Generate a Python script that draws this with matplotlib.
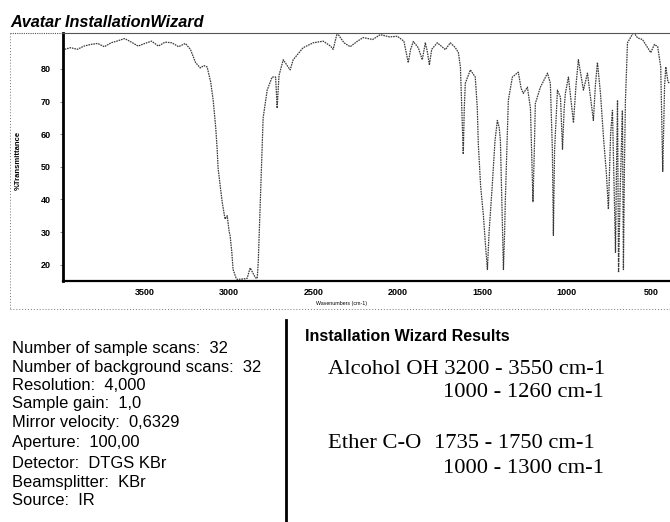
import matplotlib
matplotlib.use('Agg')
import matplotlib.pyplot as plt
from matplotlib.lines import Line2D

# IR spectrum (wavenumber cm-1, %T)
wavenumbers = [3975, 3940, 3900, 3860, 3820, 3780, 3740, 3700, 3660, 3620,
               3580, 3540, 3500, 3460, 3420, 3380, 3340, 3300, 3260, 3230,
               3200, 3172, 3150, 3131, 3110, 3095, 3080, 3071, 3066, 3055,
               3042, 3025, 3012, 3000, 2995, 2985, 2977, 2960, 2953, 2920,
               2894, 2876, 2860, 2845, 2834, 2828, 2816, 2805, 2799, 2775,
               2746, 2725, 2716, 2705, 2680, 2639, 2621, 2562, 2502, 2443,
               2400, 2384, 2360, 2320, 2283, 2240, 2206, 2150, 2105, 2050,
               2004, 1965, 1939, 1925, 1909, 1880, 1856, 1838, 1825, 1814,
               1800, 1767, 1719, 1690, 1660, 1642, 1630, 1618, 1613, 1607,
               1601, 1571, 1542, 1530, 1524, 1510, 1494, 1480, 1470, 1460,
               1441, 1425, 1411, 1400, 1393, 1385, 1375, 1368, 1364, 1346,
               1322, 1287, 1270, 1257, 1233, 1215, 1206, 1200, 1192, 1186,
               1156, 1114, 1097, 1085, 1079, 1072, 1055, 1037, 1025, 1015,
               1008, 990, 960, 945, 931, 901, 877, 842, 830, 818,
               800, 782, 765, 753, 740, 729, 720, 711, 705, 699,
               693, 682, 670, 664, 658, 652, 640, 604, 580, 551,
               520, 502, 480, 461, 443, 431, 420, 413, 400, 390]
transmittance = [86.0, 86.5, 86.0, 87.0, 87.5, 87.8, 86.8, 88.0, 88.6, 89.3,
                 88.2, 87.0, 87.8, 88.5, 87.0, 88.2, 88.0, 86.8, 87.8, 86.0,
                 82.0, 80.3, 81.0, 80.6, 76.0, 70.4, 62.0, 55.0, 49.6, 45.0,
                 39.3, 34.0, 35.0, 30.0, 29.0, 24.0, 18.5, 16.0, 15.5, 15.6,
                 15.8, 19.0, 17.5, 16.0, 15.8, 20.7, 39.0, 55.0, 65.0, 73.5,
                 77.5, 77.5, 68.0, 78.0, 82.8, 79.7, 82.8, 86.5, 88.0, 88.5,
                 87.0, 86.0, 91.0, 88.0, 86.8, 88.5, 89.6, 89.0, 90.5, 89.8,
                 90.0, 88.5, 81.9, 86.0, 88.4, 86.5, 82.8, 88.0, 85.0, 81.2,
                 86.0, 88.0, 85.9, 88.0, 86.5, 85.0, 80.6, 62.0, 53.9, 68.0,
                 75.6, 79.7, 77.5, 68.0, 57.0, 44.0, 35.2, 25.0, 18.5, 30.0,
                 44.5, 58.0, 64.2, 62.0, 58.0, 40.0, 18.5, 30.0, 39.3, 70.4,
                 77.5, 79.0, 74.0, 72.5, 74.4, 68.0, 50.0, 39.3, 55.0, 69.4,
                 74.4, 78.7, 75.6, 55.0, 29.0, 55.0, 73.5, 71.3, 55.4, 68.0,
                 72.5, 77.5, 63.5, 75.0, 82.8, 73.5, 78.7, 64.2, 75.0, 82.0,
                 72.5, 58.9, 48.0, 37.0, 60.0, 67.3, 45.0, 23.8, 50.0, 70.4,
                 17.6, 45.0, 67.3, 18.5, 50.0, 70.4, 88.0, 91.2, 89.5, 89.0,
                 86.5, 85.0, 87.5, 86.8, 80.6, 48.6, 75.0, 80.6, 76.0, 75.6]

x_ticks = [3500, 3000, 2500, 2000, 1500, 1000, 500]
y_ticks = [20, 30, 40, 50, 60, 70, 80]

settings = ["Number of sample scans:  32",
            "Number of background scans:  32",
            "Resolution:  4,000",
            "Sample gain:  1,0",
            "Mirror velocity:  0,6329",
            "Aperture:  100,00",
            "Detector:  DTGS KBr",
            "Beamsplitter:  KBr",
            "Source:  IR"]
settings_y = [353, 372, 390, 408, 427, 447, 468, 487, 505]  # baseline px

W, H = 670, 522
fig = plt.figure(figsize=(W / 100, H / 100), dpi=100)
fig.patch.set_facecolor('white')


def fx(px):
    return px / W


def fy(py):
    return 1 - py / H


ax = fig.add_axes([fx(63), fy(281), fx(670) - fx(63), fy(33) - fy(281)])
ax.plot(wavenumbers, transmittance, color='#3a3a3a', lw=0.9,
        linestyle=(0, (1.3, 0.7)))
ax.set_xlim(3985, 388)
ax.set_ylim(15.0, 91.0)

ax.set_xticks(x_ticks)
ax.set_xticklabels([str(t) for t in x_ticks], fontsize=6.5, fontweight='bold',
                   family='Liberation Sans')
ax.set_yticks(y_ticks)
ax.set_yticklabels([str(t) for t in y_ticks], fontsize=6.5, fontweight='bold',
                   family='Liberation Sans')
ax.tick_params(axis='x', length=0, pad=5)
ax.tick_params(axis='y', length=2, width=0.6, pad=7, color='#777777')

ax.spines['left'].set_linewidth(2.0)
ax.spines['bottom'].set_linewidth(1.6)
ax.spines['right'].set_visible(False)
ax.spines['top'].set_linewidth(0.8)
ax.spines['top'].set_linestyle((0, (1, 1)))
ax.spines['top'].set_color('#555555')

# outer dotted frame of the scanned report
fig.add_artist(Line2D([fx(10), fx(63)], [fy(33), fy(33)], color='#555555',
                      lw=0.8, linestyle=(0, (1, 1))))
fig.add_artist(Line2D([fx(10), fx(10)], [fy(33), fy(310)], color='#777777',
                      lw=0.7, linestyle=(0, (1, 2))))
fig.add_artist(Line2D([fx(10), fx(670)], [fy(309), fy(309)], color='#777777',
                      lw=0.7, linestyle=(0, (1, 2))))

fig.text(fx(10), fy(27), "Avatar InstallationWizard", fontsize=11.7,
         fontweight='bold', fontstyle='italic', family='Liberation Sans',
         va='baseline', ha='left')
fig.text(fx(18), fy(160), "%Transmittance", fontsize=5.5, fontweight='bold',
         rotation=90, family='Liberation Sans', va='center', ha='center')
fig.text(fx(341), fy(303), "Wavenumbers (cm-1)", fontsize=3.8,
         family='Liberation Sans', va='center', ha='center')

for line, yb in zip(settings, settings_y):
    fig.text(fx(12), fy(yb), line, fontsize=11.9, family='Liberation Sans',
             va='baseline', ha='left')

fig.add_artist(Line2D([fx(286), fx(286)], [fy(320), fy(522)], color='black',
                      lw=2.0))

fig.text(fx(305), fy(341), "Installation Wizard Results", fontsize=11.5,
         fontweight='bold', family='Liberation Sans', va='baseline', ha='left')

serif = dict(fontsize=16.2, family='Liberation Serif', va='baseline', ha='left')
fig.text(fx(328), fy(374), "Alcohol OH 3200 - 3550 cm-1", **serif)
fig.text(fx(443), fy(397), "1000 - 1260 cm-1", **serif)
fig.text(fx(328), fy(448), "Ether C-O", **serif)
fig.text(fx(434), fy(448), "1735 - 1750 cm-1", **serif)
fig.text(fx(443), fy(473), "1000 - 1300 cm-1", **serif)

fig.savefig('out.png', dpi=100, facecolor='white')
